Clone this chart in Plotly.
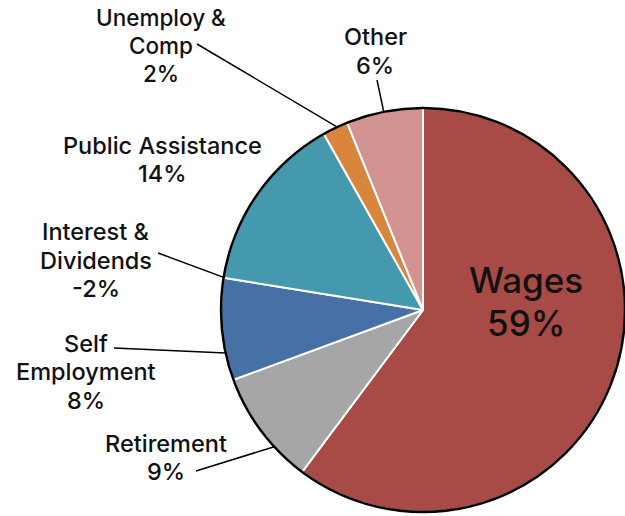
import math
import plotly.graph_objects as go

# Income sources and their shares of total income (percent)
sources = ["Wages", "Retirement", "Self Employment", "Interest & Dividends",
           "Public Assistance", "Unemploy & Comp", "Other"]
shares = [59, 9, 8, -2, 14, 2, 6]
slice_colors = ["#A84A45", "#A6A6A6", "#4771A6", "#7F7F7F",
                "#4599AF", "#D9853E", "#D39391"]
# how each source name is broken over lines in its label
name_lines = [["Wages"], ["Retirement"], ["Self", "Employment"],
              ["Interest &", "Dividends"], ["Public Assistance"],
              ["Unemploy &", "Comp"], ["Other"]]

W, H = 625, 516
CX, CY, R = 423, 310, 202
FONT = "Inter, 'Liberation Sans', Arial, sans-serif"


def px(x):
    return x / W


def py(y):
    return 1 - y / H


def edge(angle):
    a = math.radians(angle)
    return CX + R * math.sin(a), CY - R * math.cos(a)


# label placement: centre x, first line centre y, line pitch, font size,
# leader start (x, y) and the rim angle it points at (clockwise from top)
label_style = {
    "Wages": dict(x=526, y=280, pitch=43, size=35, leader=None),
    "Retirement": dict(x=166, y=443, pitch=28.6, size=23.5, leader=((196, 471), 227.4)),
    "Self Employment": dict(x=86, y=343, pitch=28.6, size=23.5, leader=((114, 348), 257.7)),
    "Interest & Dividends": dict(x=96, y=231.5, pitch=28.6, size=23.5, leader=((158, 253), 279.3)),
    "Public Assistance": dict(x=162, y=145, pitch=28.6, size=23.5, leader=None),
    "Unemploy & Comp": dict(x=161, y=18, pitch=27.5, size=22.5, leader=((197, 44), 334.9)),
    "Other": dict(x=375, y=36.5, pitch=28.6, size=23.5, leader=((377, 80), 348.8)),
}

# a pie can only show the positive shares; negative ones keep just their label
pie_idx = [i for i, v in enumerate(shares) if v > 0]

fig = go.Figure(
    go.Pie(
        labels=[sources[i] for i in pie_idx],
        values=[shares[i] for i in pie_idx],
        sort=False,
        direction="clockwise",
        rotation=0,
        marker=dict(colors=[slice_colors[i] for i in pie_idx],
                    line=dict(color="white", width=2)),
        textinfo="none",
        hoverinfo="label+value",
        domain=dict(x=[px(CX - R), px(CX + R)], y=[py(CY + R), py(CY - R)]),
        showlegend=False,
    )
)

annotations = []
shapes = [
    dict(type="circle", xref="paper", yref="paper",
         x0=px(CX - R), x1=px(CX + R), y0=py(CY + R), y1=py(CY - R),
         line=dict(color="black", width=2.5))
]

for src, share, lines in zip(sources, shares, name_lines):
    st = label_style[src]
    text_lines = lines + [f"{share}%"]
    for i, t in enumerate(text_lines):
        annotations.append(dict(
            x=px(st["x"]), y=py(st["y"] + i * st["pitch"]),
            xref="paper", yref="paper", text=t, showarrow=False,
            xanchor="center", yanchor="middle",
            font=dict(family=FONT, size=st["size"], color="#111111", weight=500),
        ))
    if st["leader"]:
        (sx, sy), ang = st["leader"]
        ex, ey = edge(ang)
        shapes.append(dict(type="line", xref="paper", yref="paper",
                           x0=px(sx), y0=py(sy), x1=px(ex), y1=py(ey),
                           line=dict(color="black", width=1.5)))

fig.update_layout(
    width=W, height=H,
    margin=dict(l=0, r=0, t=0, b=0),
    paper_bgcolor="white", plot_bgcolor="white",
    annotations=annotations, shapes=shapes,
)

fig.write_html("out.html")
